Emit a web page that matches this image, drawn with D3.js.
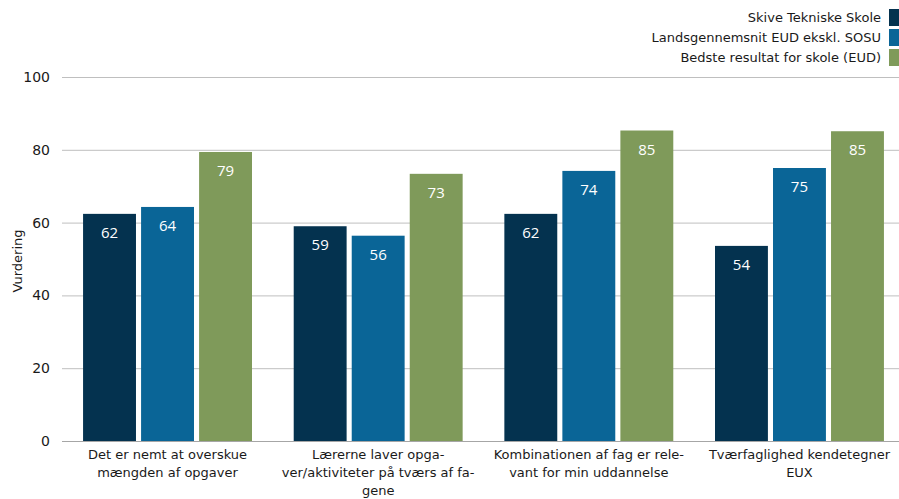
<!DOCTYPE html>
<html>
<head>
<meta charset="utf-8">
<script src="https://cdn.jsdelivr.net/npm/d3@7"></script>
<style>
  body { margin: 0; background: #fff; }
  svg text { font-family: Tahoma, "DejaVu Sans", sans-serif; }
</style>
</head>
<body>
<div id="chart"></div>
<script>
// data
const categories = [
    ["Det er nemt at overskue", "mængden af opgaver"],
    ["Lærerne laver opga-", "ver/aktiviteter på tværs af fa-", "gene"],
    ["Kombinationen af fag er rele-", "vant for min uddannelse"],
    ["Tværfaglighed kendetegner", "EUX"]
];
const seriesNames = ["Skive Tekniske Skole", "Landsgennemsnit EUD ekskl. SOSU", "Bedste resultat for skole (EUD)"];
const skive = [62.4, 59.0, 62.4, 53.6];
const landsgennemsnit = [64.3, 56.4, 74.2, 75.0];
const bedste = [79.4, 73.4, 85.3, 85.1];
const yTicks = [0, 20, 40, 60, 80, 100];
const colors = ["#04324f", "#0a6597", "#7f9a5a"];

const W = 899, H = 499;
const margin = { top: 77, bottom: 58, left: 62 };

const svg = d3.select("#chart").append("svg")
    .attr("width", W)
    .attr("height", H);

const x0 = d3.scaleBand()
    .domain(d3.range(categories.length))
    .range([margin.left, 905])
    .paddingInner(0.198)
    .paddingOuter(0.1);

const x1 = d3.scaleBand()
    .domain(d3.range(seriesNames.length))
    .range([0, x0.bandwidth()])
    .paddingInner(0.088);

const y = d3.scaleLinear()
    .domain([0, 100])
    .range([H - margin.bottom, margin.top]);

// grid lines
svg.append("g")
    .selectAll("line")
    .data(yTicks)
    .join("line")
    .attr("x1", margin.left)
    .attr("x2", W)
    .attr("y1", d => y(d) + 0.5)
    .attr("y2", d => y(d) + 0.5)
    .style("stroke", d => d === 0 ? "#a6a6a6" : "#bfbfbf")
    .style("stroke-width", "1px");

// y tick labels
svg.append("g")
    .selectAll("text")
    .data(yTicks)
    .join("text")
    .attr("x", 50)
    .attr("y", d => y(d) + 5)
    .attr("text-anchor", "end")
    .style("font-size", "14px")
    .style("fill", "#1a1a1a")
    .text(d => d);

svg.append("text")
    .attr("transform", `translate(22,${(y(0) + y(100)) / 2 + 2}) rotate(-90)`)
    .attr("text-anchor", "middle")
    .style("font-size", "13px")
    .style("fill", "#1a1a1a")
    .text("Vurdering");

const series = [skive, landsgennemsnit, bedste];

const groups = svg.append("g")
    .selectAll("g")
    .data(categories.map((c, i) => i))
    .join("g")
    .attr("transform", i => `translate(${x0(i)},0)`);

groups.selectAll("rect")
    .data(i => series.map((s, j) => ({ j: j, v: s[i] })))
    .join("rect")
    .attr("x", d => x1(d.j))
    .attr("width", x1.bandwidth())
    .attr("y", d => y(d.v))
    .attr("height", d => y(0) - y(d.v))
    .style("fill", d => colors[d.j]);

groups.selectAll("text.val")
    .data(i => series.map((s, j) => ({ j: j, v: s[i] })))
    .join("text")
    .attr("class", "val")
    .attr("x", d => x1(d.j) + x1.bandwidth() / 2)
    .attr("y", d => y(d.v) + 24)
    .attr("text-anchor", "middle")
    .style("font-family", "'Open Sans', sans-serif")
    .style("font-size", "15px")
    .style("fill", "#ffffff")
    .text(d => Math.round(d.v));

// category labels
const catLabels = svg.append("g")
    .selectAll("text")
    .data(categories.map((c, i) => i))
    .join("text")
    .attr("x", i => x0(i) + x0.bandwidth() / 2)
    .attr("y", 459)
    .attr("text-anchor", "middle")
    .style("font-size", "13px")
    .style("fill", "#1a1a1a");

catLabels.selectAll("tspan")
    .data(i => categories[i])
    .join("tspan")
    .attr("x", function() { return d3.select(this.parentNode).attr("x"); })
    .attr("dy", (d, k) => k === 0 ? 0 : 18)
    .text(d => d);

// legend
const legend = svg.append("g")
    .selectAll("g")
    .data(seriesNames.map((n, i) => i))
    .join("g")
    .attr("transform", i => `translate(0,${9 + i * 20})`);

legend.append("rect")
    .attr("x", 889)
    .attr("y", 0)
    .attr("width", 10)
    .attr("height", 17)
    .style("fill", i => colors[i]);

legend.append("text")
    .attr("x", 881)
    .attr("y", 13)
    .attr("text-anchor", "end")
    .style("font-size", "13px")
    .style("fill", "#1a1a1a")
    .text(i => seriesNames[i]);
</script>
</body>
</html>
